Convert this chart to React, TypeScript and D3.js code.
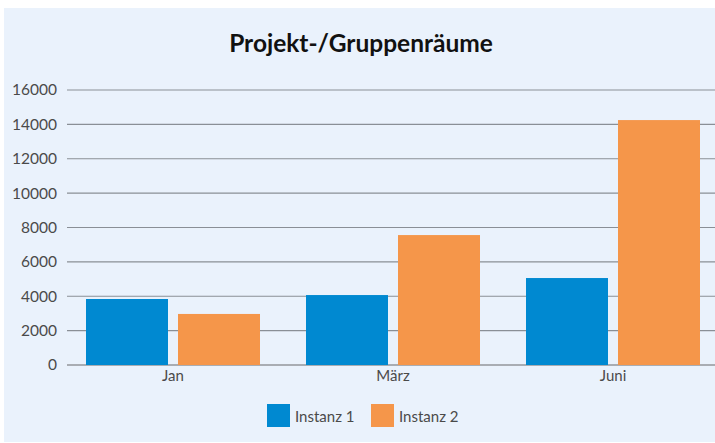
import React from 'react';
import * as d3 from 'd3';

const months = ['Jan', 'März', 'Juni'];
const seriesNames = ['Instanz 1', 'Instanz 2'];
const instanz1 = [3840, 4070, 5060];
const instanz2 = [2970, 7560, 14250];
const yTicks = [0, 2000, 4000, 6000, 8000, 10000, 12000, 14000, 16000];
const colors = ['#0089D1', '#F5964A'];

const W = 715;
const H = 443;
const font = 'Lato, "Noto Sans", sans-serif';

const App = () => {
    const x0 = d3.scaleBand().domain(months).range([63, 723]).padding(0);
    const x1 = d3.scaleBand().domain(seriesNames).range([23, 197]).paddingInner(0.1087).paddingOuter(0);
    const y = d3.scaleLinear().domain([0, 16000]).range([365, 90]);
    const values = [instanz1, instanz2];

    // legend positions
    const legendX = [267, 371];

    return (
        <div style={{ position: 'fixed', left: 0, top: 0 }}>
            <svg width={W} height={H} style={{ display: 'block' }}>
                <rect x={0} y={0} width={W} height={H} fill="#fff" />
                <rect x={4} y={8} width={W - 4} height={434} fill="#EAF2FC" />
                <text x={361} y={52} textAnchor="middle" fontFamily={font} fontWeight="bold" fontSize={24.5} fill="#111">
                    Projekt-/Gruppenräume
                </text>
                {yTicks.map((t) => (
                    <g key={t}>
                        <line x1={67} x2={W} y1={y(t)} y2={y(t)} stroke={t === 0 ? '#a9adb3' : '#8a8f96'} strokeWidth={t === 0 ? 2 : 1.2} />
                        <text x={57} y={y(t)} dy="0.35em" textAnchor="end" fontFamily={font} fontSize={15.5} fill="#4a4a4a">
                            {t}
                        </text>
                    </g>
                ))}
                {months.map((m, i) => (
                    <g key={m} transform={`translate(${x0(m)},0)`}>
                        {seriesNames.map((s, j) => (
                            <rect
                                key={s}
                                x={x1(s)}
                                y={y(values[j][i])}
                                width={x1.bandwidth()}
                                height={y(0) - y(values[j][i])}
                                fill={colors[j]}
                            />
                        ))}
                        <text x={110} y={381} textAnchor="middle" fontFamily={font} fontSize={15} fill="#4a4a4a">
                            {m}
                        </text>
                    </g>
                ))}
                {seriesNames.map((s, j) => (
                    <g key={s} transform={`translate(${legendX[j]},404)`}>
                        <rect x={0} y={0} width={23} height={23} fill={colors[j]} />
                        <text x={28} y={17.5} fontFamily={font} fontSize={15} fill="#4a4a4a">
                            {s}
                        </text>
                    </g>
                ))}
            </svg>
        </div>
    );
};

export default App;
